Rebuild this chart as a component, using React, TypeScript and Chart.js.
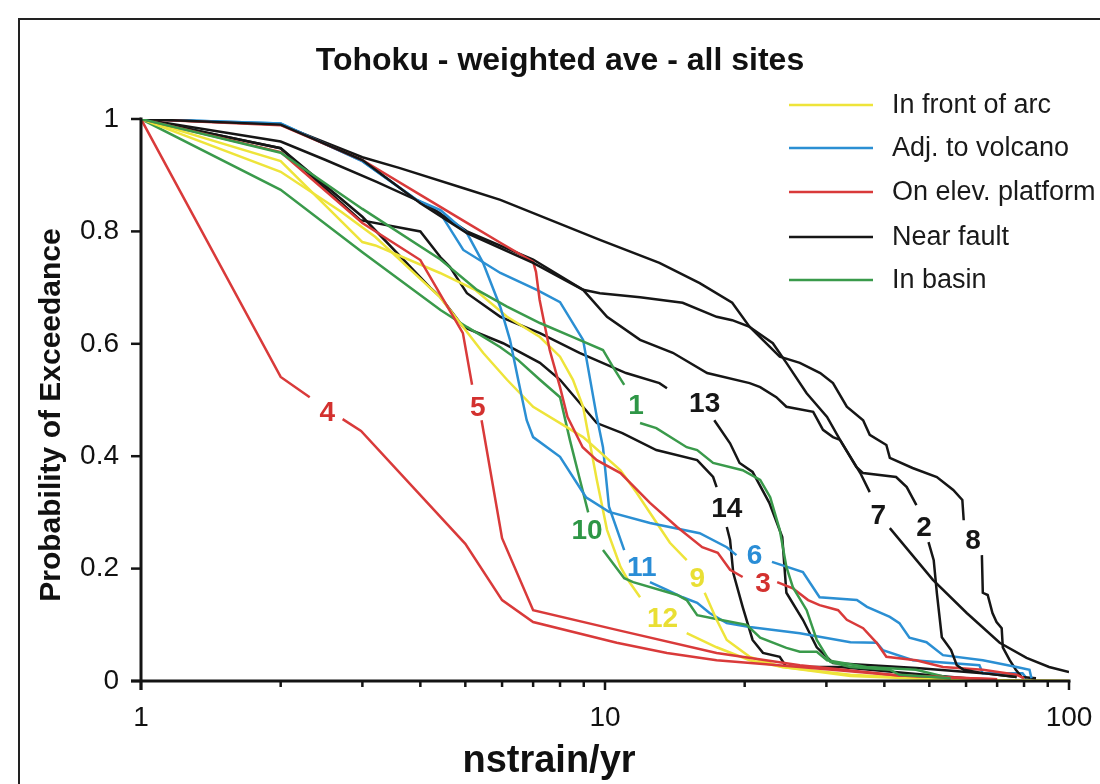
import React, { useEffect, useRef } from 'react';
import { Chart, registerables } from 'chart.js';
Chart.register(...registerables);

type P = [number, number | null];

// ---- data (x = nstrain/yr, y = probability of exceedance; null = gap for label) ----
const curve1: P[] = [[1,1],[2,0.94],[3,0.84],[4.42,0.75],[5.3,0.696],[6.15,0.666],[7.24,0.637],[8.53,0.612],[9.9,0.589],[10.4,0.559],[11.0,0.527],[11.66,null],[11.9,0.459],[12.9,0.45],[15.0,0.416],[15.8,0.411],[17.1,0.388],[19.8,0.375],[21.6,0.358],[22.7,0.327],[23.8,0.269],[24.6,0.203],[25.4,0.167],[27.2,0.126],[28.6,0.073],[30.1,0.043],[30.6,0.034],[33.8,0.025],[41.1,0.02],[43.1,0.011],[55.6,0.005]];
const curve2: P[] = [[1,1],[2,0.99],[3,0.927],[4,0.85],[5.04,0.797],[7,0.744],[8.97,0.696],[10.1,0.648],[11.9,0.607],[14,0.584],[16.6,0.548],[20.5,0.53],[21.6,0.523],[23.4,0.505],[24.6,0.488],[28.1,0.479],[29.5,0.447],[31,0.434],[32.1,0.429],[34.8,0.381],[36,0.37],[42.4,0.363],[44.7,0.345],[46.9,0.313],[48.7,null],[49.8,0.247],[51.1,0.215],[51.9,0.157],[53.2,0.078],[55.7,0.055],[57.3,0.028],[59.3,0.02],[65.2,0.014],[77.1,0.007]];
const curve3: P[] = [[1,1],[2,0.989],[3,0.927],[4,0.865],[5,0.817],[6,0.778],[7,0.746],[7.1,0.728],[7.23,0.678],[7.6,0.589],[8,0.523],[8.3,0.47],[8.95,0.416],[9.6,0.393],[10.8,0.37],[12.5,0.317],[14.3,0.274],[16.2,0.238],[17.5,0.228],[18.6,0.198],[19.8,0.185],[21.9,null],[23.5,0.176],[25.4,0.165],[27.4,0.144],[29,0.135],[31.8,0.126],[33.2,0.109],[36,0.094],[38.5,0.068],[40.4,0.043],[46.8,0.037],[53.5,0.025],[65.2,0.02],[77.1,0.011],[80,0.005]];
const curve4: P[] = [[1,1],[2,0.541],[2.31,0.505],[2.52,null],[2.72,0.466],[2.98,0.445],[5,0.244],[6,0.144],[7,0.105],[10.6,0.068],[13.6,0.05],[17.4,0.037],[26.3,0.025],[43,0.01],[70,0.003]];
const curve5: P[] = [[1,1],[2,0.941],[3,0.815],[4,0.749],[4.94,0.619],[5.17,0.527],[5.32,null],[5.42,0.464],[6,0.254],[7,0.126],[10.6,0.091],[17.4,0.05],[26.3,0.028],[43,0.01],[70,0.003]];
const curve6: P[] = [[1,1],[2,0.992],[3,0.925],[3.93,0.856],[4.42,0.838],[5.04,0.797],[5.46,0.744],[5.95,0.665],[6.24,0.607],[6.5,0.536],[6.78,0.464],[7,0.434],[8,0.399],[9.1,0.327],[10.2,0.301],[12.5,0.281],[16,0.263],[18.3,0.238],[19.2,0.224],[21.0,null],[22.9,0.212],[26.7,0.194],[29,0.149],[34.9,0.144],[36.7,0.132],[41.1,0.114],[43.1,0.103],[45.3,0.077],[49.3,0.069],[53.5,0.046],[65.2,0.037],[77.1,0.025],[82.2,0.02],[83,0.005]];
const curve7: P[] = [[1,1],[2,0.99],[3,0.932],[3.6,0.913],[5,0.876],[5.95,0.856],[9.75,0.785],[13.1,0.744],[16,0.708],[18.8,0.673],[20.5,0.63],[23,0.601],[24.6,0.566],[27.2,0.512],[30.1,0.47],[32.1,0.429],[35.5,0.37],[37.2,0.336],[38.8,null],[41.1,0.272],[50.9,0.18],[60.2,0.121],[70.9,0.068],[81,0.041],[90.6,0.025],[100,0.016]];
const curve8: P[] = [[1,1],[2,0.96],[2.5,0.927],[3.22,0.888],[4.14,0.847],[5.04,0.8],[7,0.75],[8.97,0.696],[9.75,0.69],[11.9,0.683],[14.7,0.673],[17.4,0.648],[18.8,0.642],[20.5,0.63],[23.8,0.577],[26.3,0.566],[29.1,0.548],[31,0.53],[33.2,0.488],[36,0.464],[37.2,0.438],[40.4,0.42],[41.1,0.397],[46,0.379],[51.9,0.363],[56.3,0.34],[58.9,0.322],[59.3,0.286],[62.1,null],[64.9,0.224],[65.2,0.157],[66.8,0.153],[68.4,0.121],[69.8,0.105],[71.6,0.094],[72,0.06],[74.5,0.037],[76.8,0.02],[79.1,0.007],[84.9,0.005]];
const curve9: P[] = [[1,1],[2,0.906],[2.7,0.835],[3.2,0.79],[4.41,0.683],[5.46,0.584],[6.15,0.536],[7,0.488],[8.97,0.434],[10.8,0.375],[11.7,0.335],[13.1,0.274],[13.8,0.246],[15,0.215],[15.8,null],[16.4,0.157],[17.4,0.109],[18.3,0.073],[20.5,0.043],[24.1,0.025],[33.8,0.009],[55.6,0.002],[100,0]];
const curve10: P[] = [[1,1],[2,0.874],[3,0.763],[4.42,0.66],[5.04,0.63],[5.95,0.594],[6.5,0.571],[7.24,0.536],[8,0.505],[8.4,0.429],[8.83,0.358],[9.2,0.3],[9.15,null],[9.9,0.233],[11,0.183],[11.5,0.176],[14.3,0.153],[15,0.144],[15.8,0.117],[17.7,0.109],[20.2,0.1],[21.6,0.077],[24.6,0.059],[26.3,0.052],[28.6,0.052],[30.1,0.037],[36.6,0.025],[46.8,0.02],[55.6,0.005]];
const curve11: P[] = [[1,1],[2,0.992],[3,0.925],[3.93,0.856],[4.41,0.833],[4.95,0.767],[5.95,0.726],[7.13,0.696],[8,0.674],[8.97,0.607],[9.6,0.47],[9.9,0.416],[10.2,0.31],[11,0.233],[12.0,null],[12.5,0.176],[13.6,0.162],[14.7,0.149],[15.8,0.139],[16.8,0.121],[18.3,0.103],[20.5,0.096],[26.3,0.085],[33.8,0.069],[38.5,0.068],[39.7,0.055],[46.1,0.037],[64.1,0.028],[65.2,0.014],[79.4,0.014],[81,0.005]];
const curve12: P[] = [[1,1],[2,0.925],[3,0.781],[3.2,0.775],[4.41,0.726],[5.25,0.696],[6.15,0.648],[7.24,0.612],[8,0.577],[8.53,0.536],[8.97,0.488],[9.6,0.358],[10.1,0.269],[10.8,0.203],[11.2,0.18],[11.9,0.149],[13.3,null],[15,0.085],[17.4,0.06],[20.5,0.037],[24.1,0.025],[33.8,0.011],[55.6,0.002],[100,0]];
const curve13: P[] = [[1,1],[2,0.948],[2.97,0.82],[4,0.8],[4.42,0.754],[4.63,0.737],[5.04,0.69],[5.95,0.648],[7.24,0.619],[8.81,0.584],[11.1,0.548],[13.1,0.53],[13.6,0.521],[16.4,null],[17.2,0.464],[18.6,0.423],[19.5,0.388],[20.8,0.372],[22.6,0.317],[24.1,0.256],[24.6,0.157],[26.7,0.109],[28.6,0.06],[31,0.032],[46.9,0.023],[65.2,0.014],[77.1,0.007]];
const curve14: P[] = [[1,1],[2,0.948],[3,0.826],[4.2,0.7],[4.42,0.683],[4.95,0.63],[6.03,0.601],[7.24,0.566],[8,0.536],[9.6,0.459],[10.9,0.441],[12.9,0.411],[15.8,0.393],[17.1,0.363],[17.4,0.345],[18.3,null],[18.3,0.274],[18.6,0.251],[18.9,0.192],[19.8,0.132],[20.8,0.073],[21.9,0.05],[23.8,0.043],[24.6,0.025],[32.1,0.025],[45,0.014],[60,0.005]];

const curves: P[][] = [curve1, curve2, curve3, curve4, curve5, curve6, curve7, curve8, curve9, curve10, curve11, curve12, curve13, curve14];
const curveNames = ['1','2','3','4','5','6','7','8','9','10','11','12','13','14'];
// category index of each curve (into categories)
const curveCategory = [4, 3, 2, 2, 2, 1, 3, 3, 0, 4, 1, 0, 3, 3];

const categories = ['In front of arc', 'Adj. to volcano', 'On elev. platform', 'Near fault', 'In basin'];
const categoryColors = ['#EEE43A', '#2B8FD3', '#D93A3A', '#161616', '#3A9A4B'];
const labelColors = ['#E9DF34', '#2A8DD6', '#D3312F', '#161616', '#2E9646'];

// curve number labels (data coordinates)
const labelX = [11.66, 48.7, 21.9, 2.52, 5.32, 21.0, 38.8, 62.1, 15.8, 9.15, 12.0, 13.3, 16.4, 18.3];
const labelY = [0.491, 0.274, 0.174, 0.479, 0.4875, 0.224, 0.295, 0.251, 0.183, 0.269, 0.203, 0.112, 0.495, 0.308];

const xTickValues = [1, 10, 100];
const xTickLabels = ['1', '10', '100'];
const xMinorTicks = [2, 3, 4, 5, 6, 7, 8, 9, 20, 30, 40, 50, 60, 70, 80, 90];
const yTickValues = [0, 0.2, 0.4, 0.6, 0.8, 1];
const yTickLabels = ['0', '0.2', '0.4', '0.6', '0.8', '1'];

const titleText = 'Tohoku - weighted ave - all sites';
const xTitle = 'nstrain/yr';
const yTitle = 'Probability of Exceedance';

const FF = "'Liberation Sans', Arial, Helvetica, sans-serif";

const decorPlugin = {
  id: 'decor',
  beforeDraw(chart: any) {
    const ctx = chart.ctx;
    ctx.save();
    ctx.fillStyle = '#ffffff';
    ctx.fillRect(0, 0, chart.width, chart.height);
    ctx.strokeStyle = '#222';
    ctx.lineWidth = 2;
    ctx.strokeRect(19, 19, 1300, 1000);
    ctx.restore();
  },
  afterDatasetsDraw(chart: any) {
    const ctx = chart.ctx;
    const xs = chart.scales.x;
    const ys = chart.scales.y;
    const x0 = xs.getPixelForValue(1);
    const x1 = xs.getPixelForValue(100);
    const y0 = ys.getPixelForValue(0);
    const y1 = ys.getPixelForValue(1);
    ctx.save();
    ctx.strokeStyle = '#141414';
    ctx.lineCap = 'butt';
    // axes
    ctx.lineWidth = 3;
    ctx.beginPath();
    ctx.moveTo(x0, y1 - 1.5);
    ctx.lineTo(x0, y0 + 9);
    ctx.stroke();
    ctx.beginPath();
    ctx.moveTo(x0 - 10, y0);
    ctx.lineTo(x1 + 1.5, y0);
    ctx.stroke();
    // ticks
    ctx.lineWidth = 2.5;
    xTickValues.forEach((v) => {
      const px = xs.getPixelForValue(v);
      ctx.beginPath(); ctx.moveTo(px, y0); ctx.lineTo(px, y0 + 9); ctx.stroke();
    });
    xMinorTicks.forEach((v) => {
      const px = xs.getPixelForValue(v);
      ctx.beginPath(); ctx.moveTo(px, y0); ctx.lineTo(px, y0 + 6); ctx.stroke();
    });
    yTickValues.forEach((v) => {
      const py = ys.getPixelForValue(v);
      ctx.beginPath(); ctx.moveTo(x0 - 10, py); ctx.lineTo(x0, py); ctx.stroke();
    });
    // curve labels
    ctx.font = `bold 28px ${FF}`;
    ctx.textAlign = 'center';
    ctx.textBaseline = 'middle';
    curveNames.forEach((n, i) => {
      ctx.fillStyle = labelColors[curveCategory[i]];
      ctx.fillText(n, xs.getPixelForValue(labelX[i]), ys.getPixelForValue(labelY[i]) + 1);
    });
    // legend
    ctx.font = `27px ${FF}`;
    ctx.textAlign = 'left';
    const legYs = [105, 148, 192, 237, 280];
    categories.forEach((c, i) => {
      ctx.strokeStyle = categoryColors[i];
      ctx.lineWidth = 2.5;
      ctx.beginPath(); ctx.moveTo(789, legYs[i]); ctx.lineTo(873, legYs[i]); ctx.stroke();
      ctx.fillStyle = '#1a1a1a';
      ctx.fillText(c, 892, legYs[i] + 1);
    });
    // title
    ctx.font = `bold 32px ${FF}`;
    ctx.textAlign = 'center';
    ctx.textBaseline = 'alphabetic';
    ctx.fillStyle = '#111';
    ctx.fillText(titleText, 560, 70);
    // axis titles
    ctx.font = `bold 38px ${FF}`;
    ctx.fillText(xTitle, 549, 772);
    ctx.font = `bold 30px ${FF}`;
    ctx.translate(52, 415);
    ctx.rotate(-Math.PI / 2);
    ctx.textBaseline = 'middle';
    ctx.fillText(yTitle, 0, 0);
    ctx.restore();
  },
};

export default function App() {
  const ref = useRef<HTMLCanvasElement | null>(null);
  useEffect(() => {
    if (!ref.current) return;
    const datasets = curves.map((pts, i) => ({
      label: curveNames[i],
      data: pts.map(([x, y]) => ({ x, y })),
      borderColor: categoryColors[curveCategory[i]],
      backgroundColor: categoryColors[curveCategory[i]],
      borderWidth: 2.5,
      pointRadius: 0,
      tension: 0,
      spanGaps: false,
      fill: false,
    }));
    const chart = new Chart(ref.current, {
      type: 'line',
      data: { datasets },
      plugins: [decorPlugin],
      options: {
        animation: false,
        responsive: false,
        devicePixelRatio: 1,
        events: [],
        layout: { padding: { left: 0, right: 31, top: 119, bottom: 0 } },
        plugins: { legend: { display: false }, title: { display: false }, tooltip: { enabled: false } },
        scales: {
          x: {
            type: 'logarithmic',
            min: 1,
            max: 100,
            grid: { display: false, drawTicks: false },
            border: { display: false },
            afterFit: (s: any) => { s.height = 103; s.paddingLeft = 0; s.paddingRight = 0; },
            ticks: {
              autoSkip: false,
              maxRotation: 0,
              padding: 20,
              color: '#111',
              font: { family: FF, size: 28 },
              callback: (v: any) => {
                const k = xTickValues.indexOf(Number(v));
                return k >= 0 ? xTickLabels[k] : '';
              },
            },
          },
          y: {
            type: 'linear',
            min: 0,
            max: 1,
            grid: { display: false, drawTicks: false },
            border: { display: false },
            afterFit: (s: any) => { s.width = 141; s.paddingTop = 0; s.paddingBottom = 0; },
            ticks: {
              stepSize: 0.2,
              padding: 22,
              color: '#111',
              font: { family: FF, size: 28 },
              callback: (v: any) => {
                const k = Math.round(Number(v) * 5);
                return yTickLabels[k] ?? '';
              },
            },
          },
        },
      },
    } as any);
    return () => chart.destroy();
  }, []);
  return (
    <div style={{ position: 'fixed', left: 0, top: 0, width: 1100, height: 784, background: '#fff' }}>
      <canvas ref={ref} width={1100} height={784} style={{ display: 'block', width: 1100, height: 784 }} />
    </div>
  );
}
